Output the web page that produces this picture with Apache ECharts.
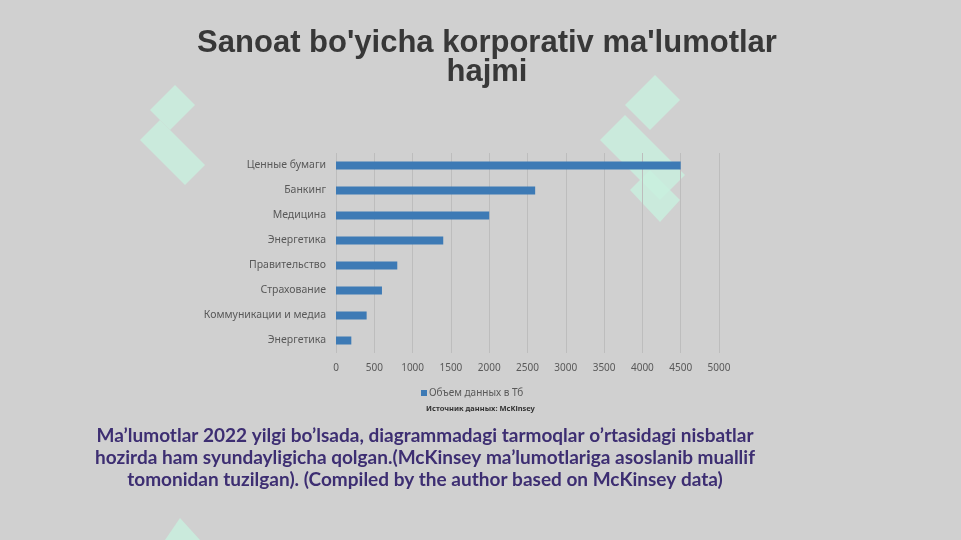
<!DOCTYPE html>
<html><head><meta charset="utf-8">
<script src="https://cdn.jsdelivr.net/npm/echarts@6/dist/echarts.min.js"></script>
<style>html,body{margin:0;padding:0;background:#d0d0d0;}#c{width:961px;height:540px;}</style>
</head><body><div id="c"></div>
<script>
var categories = ['Ценные бумаги','Банкинг','Медицина','Энергетика','Правительство','Страхование','Коммуникации и медиа','Энергетика'];
var values = [4500, 2600, 2000, 1400, 800, 600, 400, 200];
var seriesName = 'Объем данных в Тб';
var titleLines = ["Sanoat bo'yicha korporativ ma'lumotlar", 'hajmi'];
var sourceText = 'Источник данных: McKinsey';
var noteLines = ['Ma’lumotlar 2022 yilgi bo’lsada, diagrammadagi tarmoqlar o’rtasidagi nisbatlar',
  'hozirda ham syundayligicha qolgan.(McKinsey ma’lumotlariga asoslanib muallif',
  'tomonidan tuzilgan). (Compiled by the author based on McKinsey data)'];

var chart = echarts.init(document.getElementById('c'));
var mint = 'rgba(200,240,222,0.8)';
function para(pts){return {type:'polygon',z:-1,shape:{points:pts},style:{fill:mint}};}
chart.setOption({
  backgroundColor:'#d0d0d0',
  animation:false,
  title:{text:titleLines.join('\n'),left:482,top:24,textAlign:'center',
    textStyle:{fontFamily:'Liberation Sans',fontWeight:'bold',fontSize:31,color:'#383838',lineHeight:29}},
  legend:{data:[seriesName],left:416,top:383,itemWidth:6,itemHeight:6,itemGap:4,
    icon:'rect',textStyle:{fontFamily:'Noto Sans',fontSize:10,color:'#595959',padding:[0,0,0,-3]}},
  grid:{left:336,right:242,top:153,bottom:187,containLabel:false},
  xAxis:{type:'value',min:0,max:5000,interval:500,
    axisLine:{show:false},axisTick:{show:false},
    axisLabel:{fontFamily:'Noto Sans',fontSize:10,color:'#595959',margin:10,formatter:function(v){return String(v);}},
    splitLine:{lineStyle:{color:'#bdbdbd',width:1}}},
  yAxis:{type:'category',data:categories,inverse:true,
    axisLine:{show:false},axisTick:{show:false},
    axisLabel:{fontFamily:'Noto Sans',fontSize:10.5,color:'#595959',margin:10}},
  series:[{name:seriesName,type:'bar',data:values,barWidth:8,itemStyle:{color:'#3d7ab5'}}],
  graphic:[
    para([[150,110],[175,85],[195,105],[170,130]]),
    para([[140,140],[160,120],[205,165],[185,185]]),
    para([[625,105],[655,75],[680,100],[650,130]]),
    para([[600,140],[625,115],[685,175],[660,200]]),
    para([[630,190],[650,170],[680,200],[660,222]]),
    para([[165,540],[180,518],[200,540]]),
    {type:'text',left:'center',top:405,style:{text:sourceText,fontFamily:'Noto Sans',fontWeight:'bold',fontSize:7.5,fill:'#333'}},
    {type:'text',x:425,y:425,style:{text:noteLines.join('\n'),textAlign:'center',fontFamily:'Lato',fontWeight:'bold',fontSize:19,lineHeight:22,fill:'#3d2e72'}}
  ]
});
</script></body></html>
